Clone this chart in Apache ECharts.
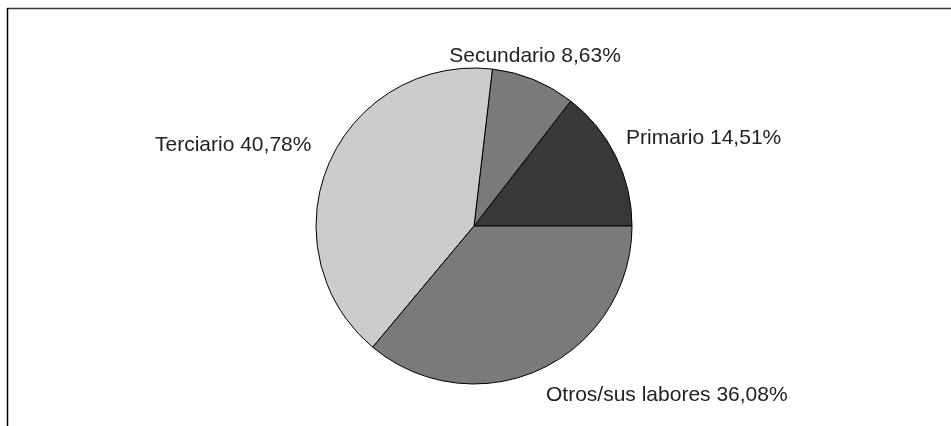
<!DOCTYPE html>
<html>
<head>
<meta charset="utf-8">
<script src="https://cdn.jsdelivr.net/npm/echarts@6/dist/echarts.min.js"></script>
<style>
  html, body { margin: 0; padding: 0; background: #fff; }
  #chart { width: 951px; height: 426px; }
</style>
</head>
<body>
<div id="chart"></div>
<script>
// sectores y su porcentaje
var categories = ['Primario', 'Secundario', 'Terciario', 'Otros/sus labores'];
var values = [14.51, 8.63, 40.78, 36.08];
var colors = ['#383838', '#7a7a7a', '#cccccc', '#7a7a7a'];

// donde va cada etiqueta (x, y, alineacion)
var labelPos = [
  { x: 626, y: 138, align: 'left' },
  { x: 535, y: 56, align: 'center' },
  { x: 155, y: 145, align: 'left' },
  { x: 546, y: 395, align: 'left' }
];

var chart = echarts.init(document.getElementById('chart'));

var option = {
  animation: false,
  backgroundColor: '#fff',
  graphic: [
    { type: 'line', shape: { x1: 7, y1: 8.5, x2: 951, y2: 8.5 }, style: { stroke: '#3a3a3a', lineWidth: 1.5 } },
    { type: 'line', shape: { x1: 7.5, y1: 8, x2: 7.5, y2: 426 }, style: { stroke: '#000', lineWidth: 1.5 } }
  ],
  series: [
    {
      type: 'pie',
      center: [474, 226],
      radius: 158,
      startAngle: 0,
      clockwise: false,
      data: categories.map(function (c, i) {
        return { name: c, value: values[i], itemStyle: { color: colors[i] } };
      }),
      itemStyle: { borderColor: '#000', borderWidth: 1 },
      label: {
        show: true,
        position: 'outside',
        fontFamily: 'Liberation Sans, Arial, sans-serif',
        fontSize: 21,
        color: '#222',
        formatter: function (p) {
          return p.name + ' ' + p.value.toFixed(2).replace('.', ',') + '%';
        }
      },
      labelLine: { show: false },
      labelLayout: function (params) {
        var lp = labelPos[params.dataIndex];
        return { x: lp.x, y: lp.y, align: lp.align, verticalAlign: 'middle' };
      },
      emphasis: { disabled: true }
    }
  ]
};

chart.setOption(option);
</script>
</body>
</html>
